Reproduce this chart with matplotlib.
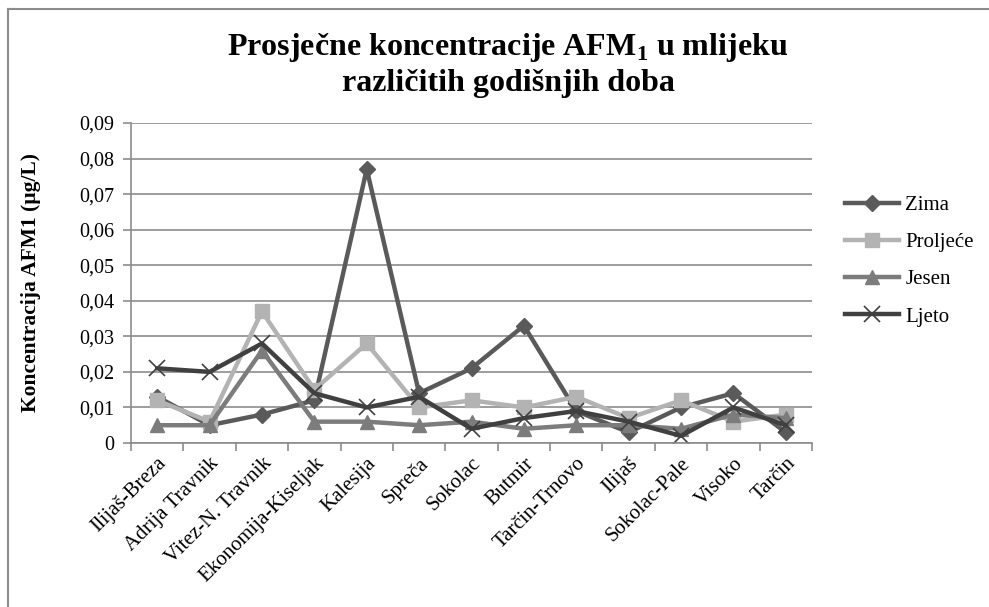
import matplotlib
matplotlib.use("Agg")
from matplotlib import pyplot as plt
from matplotlib.lines import Line2D
import numpy as np

plt.rcParams["font.family"] = ["Liberation Serif", "DejaVu Serif"]
plt.rcParams["mathtext.fontset"] = "custom"
plt.rcParams["mathtext.rm"] = "Liberation Serif"
plt.rcParams["mathtext.bf"] = "Liberation Serif:bold"

locations = ["Ilijaš-Breza", "Adrija Travnik", "Vitez-N. Travnik", "Ekonomija-Kiseljak",
             "Kalesija", "Spreča", "Sokolac", "Butmir", "Tarčin-Trnovo", "Ilijaš",
             "Sokolac-Pale", "Visoko", "Tarčin"]
zima = [0.013, 0.005, 0.008, 0.012, 0.077, 0.014, 0.021, 0.033, 0.009, 0.003, 0.010, 0.014, 0.003]
proljece = [0.012, 0.006, 0.037, 0.015, 0.028, 0.010, 0.012, 0.010, 0.013, 0.007, 0.012, 0.006, 0.008]
jesen = [0.005, 0.005, 0.026, 0.006, 0.006, 0.005, 0.006, 0.004, 0.005, 0.005, 0.004, 0.008, 0.007]
ljeto = [0.021, 0.020, 0.028, 0.014, 0.010, 0.013, 0.004, 0.007, 0.009, 0.006, 0.002, 0.010, 0.005]
y_ticks = [0, 0.01, 0.02, 0.03, 0.04, 0.05, 0.06, 0.07, 0.08, 0.09]

fig = plt.figure(figsize=(9.89, 6.07), dpi=100)
ax = fig.add_axes([131 / 989, 1 - 443 / 607, 681 / 989, 320 / 607])

x = np.arange(len(locations))
series = [
    ("Zima", zima, "#5a5a5a", "D", 8),
    ("Proljeće", proljece, "#b3b3b3", "s", 10),
    ("Jesen", jesen, "#7c7c7c", "^", 10),
    ("Ljeto", ljeto, "#404040", "x", 11),
]
for name, vals, col, mk, ms in series:
    kw = dict(markeredgewidth=1.2) if mk == "x" else dict(markeredgecolor=col)
    ax.plot(x, vals, color=col, lw=3.2, marker=mk, markersize=ms,
            markerfacecolor=col, label=name, **kw)

ax.set_xlim(-0.5, len(locations) - 0.5)
ax.set_ylim(0, 0.09)
ax.set_yticks(y_ticks)
ax.set_yticklabels([("%.2f" % v).replace(".", ",") if v else "0" for v in y_ticks], fontsize=14.5)
ax.yaxis.grid(True, color="#8c8c8c", lw=1.2)
ax.set_axisbelow(True)

ax.set_xticks(x)
ax.set_xticklabels(locations, rotation=45, ha="right", rotation_mode="anchor", fontsize=15)
ax.set_xticks(np.arange(len(locations) + 1) - 0.5, minor=True)
ax.tick_params(axis="x", which="major", length=0, pad=8)
ax.tick_params(axis="x", which="minor", length=6, color="#8c8c8c", width=1.2)
ax.tick_params(axis="y", length=6, color="#8c8c8c", width=1.2, pad=6)

for s in ["top", "right"]:
    ax.spines[s].set_visible(False)
for s in ["left", "bottom"]:
    ax.spines[s].set_color("#8c8c8c")
    ax.spines[s].set_linewidth(1.2)

ax.set_ylabel("Koncentracija AFM1 (µg/L)", fontsize=15.5, fontweight="bold")
ax.yaxis.set_label_coords(-90 / 681, 0.5)

fig.text(508 / 989, 1 - 48 / 607, r"Prosječne koncentracije AFM$_\mathbf{1}$ u mlijeku",
         ha="center", va="center", fontsize=23, fontweight="bold")
fig.text(508 / 989, 1 - 84 / 607, "različitih godišnjih doba",
         ha="center", va="center", fontsize=23, fontweight="bold")

leg = ax.legend(loc="center left", bbox_to_anchor=(826 / 989, 1 - 261 / 607),
                bbox_transform=fig.transFigure, frameon=False, fontsize=15,
                handlelength=2.6, labelspacing=0.85, handletextpad=0.3)

# outer chart frame
fig.add_artist(Line2D([8 / 989, 8 / 989], [0, 1 - 9 / 607], transform=fig.transFigure,
                      color="#8c8c8c", lw=1.5))
fig.add_artist(Line2D([8 / 989, 1], [1 - 9 / 607, 1 - 9 / 607], transform=fig.transFigure,
                      color="#8c8c8c", lw=1.5))

fig.savefig("out.png", dpi=100)
